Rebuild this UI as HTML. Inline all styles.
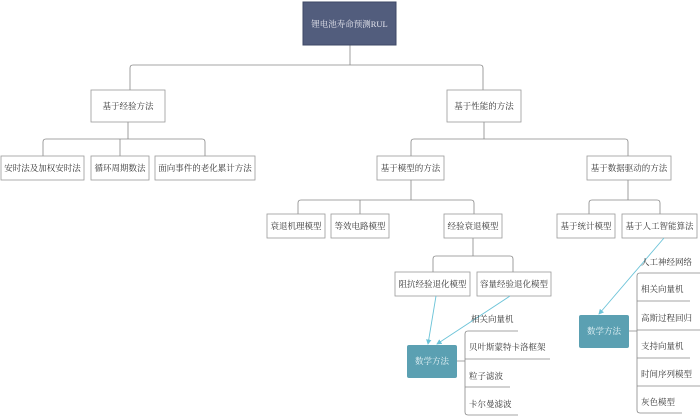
<!DOCTYPE html>
<html><head><meta charset="utf-8"><style>
html,body{margin:0;padding:0;background:#fff;}
svg{display:block}
text{font-family:"Liberation Serif","Noto Serif CJK SC","Noto Sans CJK SC",serif;font-size:8.5px;fill:#333;}
.b{fill:#fff;stroke:#999;stroke-width:0.8}
.l{fill:none;stroke:#888;stroke-width:0.8}
.a{stroke:#6cc3d8;stroke-width:0.9;fill:none}
</style></head><body>
<svg width="700" height="418" viewBox="0 0 700 418">
<defs><marker id="m" markerWidth="6" markerHeight="6" refX="5" refY="3" orient="auto"><path d="M0,0 L6,3 L0,6 z" fill="#6cc3d8"/></marker></defs>
<!-- connectors -->
<path class="l" d="M350,45 V65 M130,75 V68 Q130,65 133,65 H480 Q483,65 483,68 V90 M130,68 V90"/>
<path class="l" d="M128,122 V139 M43,156 V142 Q43,139 46,139 H202 Q205,139 205,142 V156 M120,139 V156"/>
<path class="l" d="M484,122 V139 M411,156 V142 Q411,139 414,139 H625 Q628,139 628,142 V156"/>
<path class="l" d="M411,180 V200 M298,214 V203 Q298,200 301,200 H471 Q474,200 474,203 V214 M360,200 V214"/>
<path class="l" d="M628,180 V200 M589,214 V203 Q589,200 592,200 H657 Q660,200 660,203 V214"/>
<path class="l" d="M473,238 V256 M433,272 V259 Q433,256 436,256 H510 Q513,256 513,259 V272"/>
<!-- boxes -->
<rect x="303" y="2" width="93" height="43" fill="#525d7d" stroke="#3e4866"/>
<text x="349.5" y="27" text-anchor="middle" style="fill:#e8e8f0">锂电池寿命预测RUL</text>
<g text-anchor="middle">
<rect class="b" x="91" y="90" width="74" height="32"/><text x="128" y="109">基于经验方法</text>
<rect class="b" x="447" y="90" width="74" height="32"/><text x="484" y="109">基于性能的方法</text>
<rect class="b" x="1" y="156" width="83" height="24"/><text x="42.5" y="171">安时法及加权安时法</text>
<rect class="b" x="91" y="156" width="58" height="24"/><text x="120" y="171">循环周期数法</text>
<rect class="b" x="155" y="156" width="100" height="24"/><text x="205" y="171">面向事件的老化累计方法</text>
<rect class="b" x="377" y="156" width="67" height="24"/><text x="410.5" y="171">基于模型的方法</text>
<rect class="b" x="587" y="156" width="84" height="24"/><text x="629" y="171">基于数据驱动的方法</text>
<rect class="b" x="267" y="214" width="58" height="24"/><text x="296" y="229">衰退机理模型</text>
<rect class="b" x="331" y="214" width="58" height="24"/><text x="360" y="229">等效电路模型</text>
<rect class="b" x="444" y="214" width="58" height="24"/><text x="473" y="229">经验衰退模型</text>
<rect class="b" x="557" y="214" width="58" height="24"/><text x="586" y="229">基于统计模型</text>
<rect class="b" x="622" y="214" width="75" height="24"/><text x="659.5" y="229">基于人工智能算法</text>
<rect class="b" x="395" y="272" width="75" height="24"/><text x="432.5" y="287">阻抗经验退化模型</text>
<rect class="b" x="477" y="272" width="74" height="24"/><text x="514" y="287">容量经验退化模型</text>
<rect x="407" y="345" width="50" height="33" rx="2" fill="#5ba0b2"/><text x="432" y="364" style="fill:#e8f4f7">数学方法</text>
<rect x="579" y="315" width="50" height="33" rx="2" fill="#5ba0b2"/><text x="604" y="334" style="fill:#e8f4f7">数学方法</text>
</g>
<!-- arrows -->
<line class="a" x1="436" y1="296" x2="428" y2="344" marker-end="url(#m)"/>
<line class="a" x1="510" y1="296" x2="437" y2="344" marker-end="url(#m)"/>
<line class="a" x1="664" y1="238" x2="599" y2="314" marker-end="url(#m)"/>
<!-- left list -->
<path class="l" d="M457,361 H465 M518,331 H468 Q465,331 465,334 V412 Q465,415 468,415 H518 M465,359 H550 M465,387 H510"/>
<text x="471" y="322">相关向量机</text>
<text x="469" y="350">贝叶斯蒙特卡洛框架</text>
<text x="469" y="379">粒子滤波</text>
<text x="469" y="407">卡尔曼滤波</text>
<!-- right list -->
<path class="l" d="M629,331 H637 M700,273 H640 Q637,273 637,276 V410 Q637,413 640,413 H682 M637,301 H690 M637,330 H700 M637,358 H690 M637,386 H700"/>
<text x="641" y="265">人工神经网络</text>
<text x="641" y="292">相关向量机</text>
<text x="641" y="321">高斯过程回归</text>
<text x="641" y="349">支持向量机</text>
<text x="641" y="377">时间序列模型</text>
<text x="641" y="405">灰色模型</text>
</svg>
</body></html>
